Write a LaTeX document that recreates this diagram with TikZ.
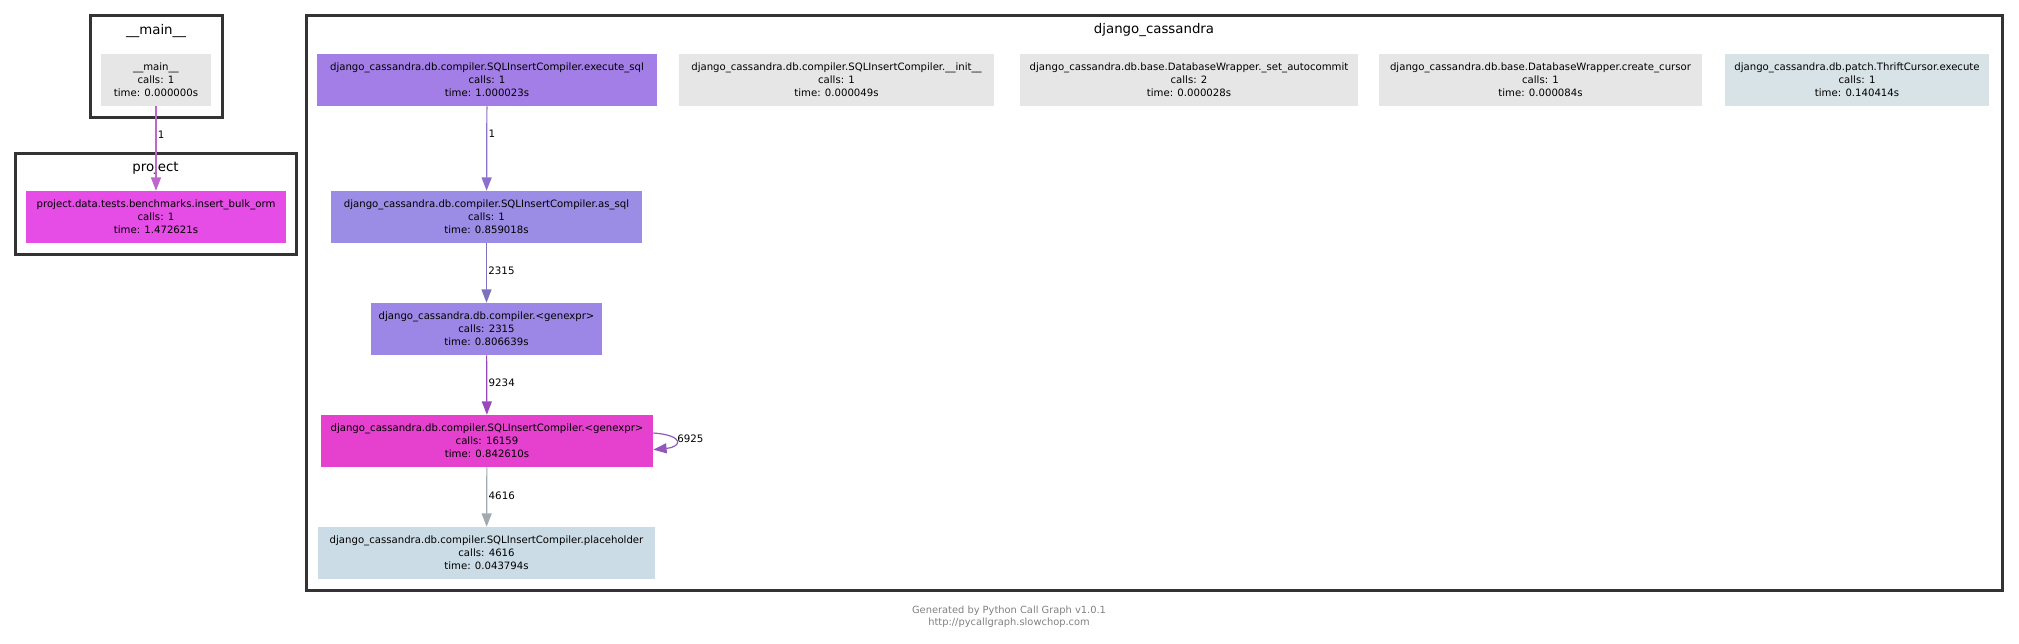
\documentclass[tikz,border=0pt]{standalone}
\usepackage{fontspec}
\setmainfont{DejaVu Sans}
\usetikzlibrary{arrows.meta}
\definecolor{gray0}{RGB}{230,230,230}
\definecolor{projc}{RGB}{230,76,230}
\definecolor{execc}{RGB}{163,126,230}
\definecolor{assqlc}{RGB}{155,140,230}
\definecolor{genc}{RGB}{157,135,230}
\definecolor{sqlgenc}{RGB}{230,65,206}
\definecolor{placec}{RGB}{203,220,230}
\definecolor{thriftc}{RGB}{215,227,230}
\definecolor{e1c}{RGB}{190,102,204}
\definecolor{e2c}{RGB}{140,112,204}
\definecolor{e3c}{RGB}{128,112,192}
\definecolor{e4c}{RGB}{155,72,190}
\definecolor{e5c}{RGB}{145,88,186}
\definecolor{e6c}{RGB}{160,170,176}
\definecolor{clusterc}{RGB}{51,51,51}
\definecolor{footc}{RGB}{128,128,128}
\begin{document}
\begin{tikzpicture}[x=0.75pt,y=-0.75pt,
  callnode/.style={draw=none,align=center,inner sep=0pt,minimum height=39pt,
    font=\fontsize{7.6}{9.75}\selectfont},
  cluster/.style={draw=clusterc,line width=2.25pt,inner sep=0pt},
  ctitle/.style={anchor=base,inner sep=0pt,font=\fontsize{10}{12}\selectfont},
  calledge/.style={line width=0.9pt,-{Triangle[length=10pt,width=7.5pt]}},
  elabel/.style={anchor=west,inner sep=1pt,text=black,font=\fontsize{7.7}{9}\selectfont}]
\useasboundingbox (0,0) rectangle (2019,643);
% clusters
\node[cluster,minimum width=99pt,minimum height=76.5pt] (cmain) at (156,66) {};
\node[cluster,minimum width=210.75pt,minimum height=75.75pt] (cproj) at (155.5,203.5) {};
\node[cluster,minimum width=1272pt,minimum height=431.25pt] (cdj) at (1154,302.5) {};
\node[ctitle] (tmain) at (156,34) {\_\_main\_\_};
\node[ctitle] (tproj) at (155.5,171) {project};
\node[ctitle] (tdj) at (1154,33) {django\_cassandra};
% nodes
\node[callnode,fill=gray0,minimum width=82.5pt] (mainN) at (156,80) {\_\_main\_\_\\calls: 1\\time: 0.000000s};
\node[callnode,fill=projc,minimum width=195pt] (projN) at (156,217) {project.data.tests.benchmarks.insert\_bulk\_orm\\calls: 1\\time: 1.472621s};
\node[callnode,fill=execc,minimum width=255pt] (exec) at (487,80) {django\_cassandra.db.compiler.SQLInsertCompiler.execute\_sql\\calls: 1\\time: 1.000023s};
\node[callnode,fill=gray0,minimum width=236.25pt] (init) at (836.5,80) {django\_cassandra.db.compiler.SQLInsertCompiler.\_\_init\_\_\\calls: 1\\time: 0.000049s};
\node[callnode,fill=gray0,minimum width=253.5pt] (autoc) at (1189,80) {django\_cassandra.db.base.DatabaseWrapper.\_set\_autocommit\\calls: 2\\time: 0.000028s};
\node[callnode,fill=gray0,minimum width=242.25pt] (cursor) at (1540.5,80) {django\_cassandra.db.base.DatabaseWrapper.create\_cursor\\calls: 1\\time: 0.000084s};
\node[callnode,fill=thriftc,minimum width=198pt] (thrift) at (1857,80) {django\_cassandra.db.patch.ThriftCursor.execute\\calls: 1\\time: 0.140414s};
\node[callnode,fill=assqlc,minimum width=233.25pt] (assql) at (486.5,217) {django\_cassandra.db.compiler.SQLInsertCompiler.as\_sql\\calls: 1\\time: 0.859018s};
\node[callnode,fill=genc,minimum width=173.25pt] (gen) at (486.5,329) {django\_cassandra.db.compiler.<genexpr>\\calls: 2315\\time: 0.806639s};
\node[callnode,fill=sqlgenc,minimum width=249pt] (sqlgen) at (487,441) {django\_cassandra.db.compiler.SQLInsertCompiler.<genexpr>\\calls: 16159\\time: 0.842610s};
\node[callnode,fill=placec,minimum width=252.75pt] (place) at (486.5,553) {django\_cassandra.db.compiler.SQLInsertCompiler.placeholder\\calls: 4616\\time: 0.043794s};
% edges
\draw[calledge,e1c] (mainN) -- node[elabel,pos=0.34] (l1) {1} (projN);
\draw[calledge,e2c] (exec) -- node[elabel,pos=0.33] (l2) {1} (assql);
\draw[calledge,e3c] (assql) -- node[elabel,pos=0.47] (l3) {2315} (gen);
\draw[calledge,e4c] (gen) -- node[elabel,pos=0.47] (l4) {9234} (sqlgen);
\draw[calledge,e6c] (sqlgen) -- node[elabel,pos=0.48] (l6) {4616} (place);
\draw[calledge,e5c] ([yshift=6pt]sqlgen.east) .. controls +(30,2) and +(30,-3) .. ([yshift=-6.5pt]sqlgen.east);
\node[elabel,inner sep=0pt] (l5) at (677,439) {6925};
% footer
\node[inner sep=0pt,text=footc,font=\fontsize{7.4}{9}\selectfont] (f1) at (1009,611) {Generated by Python Call Graph v1.0.1};
\node[inner sep=0pt,text=footc,font=\fontsize{7.4}{9}\selectfont] (f2) at (1009,623) {http://pycallgraph.slowchop.com};
\end{tikzpicture}
\end{document}
